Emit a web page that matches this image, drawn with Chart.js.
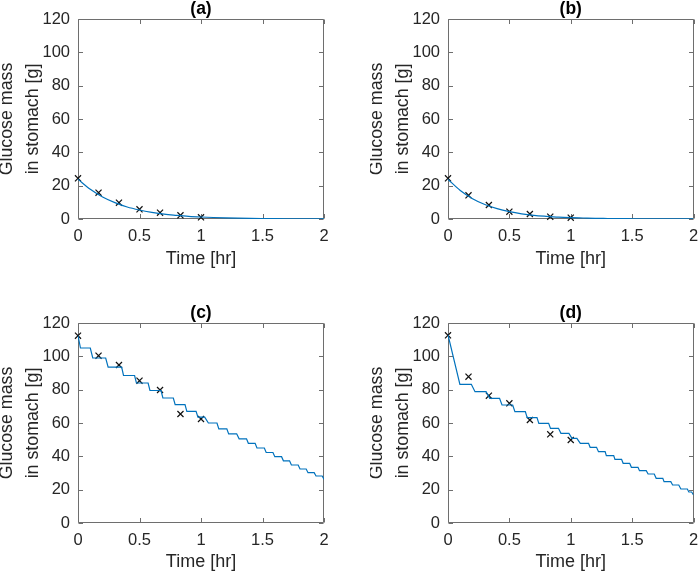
<!DOCTYPE html>
<html>
<head>
<meta charset="utf-8">
<script src="https://cdn.jsdelivr.net/npm/chart.js@4/dist/chart.umd.min.js"></script>
<style>
  html, body { margin: 0; padding: 0; background: #fff; }
  #wrap { position: relative; width: 699px; height: 573px; overflow: hidden; }
  canvas { position: absolute; }
</style>
</head>
<body>
<div id="wrap">
  <canvas id="chartA" width="350" height="270" style="left:0;top:0"></canvas>
  <canvas id="chartB" width="329" height="270" style="left:370px;top:0"></canvas>
  <canvas id="chartC" width="350" height="270" style="left:0;top:303px"></canvas>
  <canvas id="chartD" width="329" height="270" style="left:370px;top:303px"></canvas>
</div>
<script>
// measured samples (same sampling times in every panel)
const measTime = [0, 0.167, 0.333, 0.5, 0.667, 0.833, 1];
const measA = [24.4, 15.8, 9.8, 5.8, 3.8, 2.2, 1.0];
const measB = [24.4, 14.2, 8.4, 4.4, 3.0, 1.4, 0.8];
const measC = [112.4, 100.4, 94.8, 85.4, 79.8, 65.4, 62.4];
const measD = [112.6, 87.8, 76.4, 71.8, 61.8, 53.2, 49.8];

// model curves (a) and (b), read every 0.1 hr
const smoothTime = [0, 0.1, 0.2, 0.3, 0.4, 0.5, 0.6, 0.7, 0.8, 0.9, 1.0,
                    1.1, 1.2, 1.3, 1.4, 1.5, 1.6, 1.7, 1.8, 1.9, 2.0];
const modelA = [23.8, 17.8, 13.2, 9.8, 7.2, 5.4, 4.0, 2.9, 2.2, 1.6, 1.2,
                0.9, 0.66, 0.49, 0.36, 0.27, 0.2, 0.15, 0.11, 0.08, 0.06];
const modelB = [23.8, 17.1, 12.2, 8.7, 6.2, 4.4, 3.1, 2.2, 1.6, 1.1, 0.8,
                0.6, 0.4, 0.3, 0.2, 0.15, 0.1, 0.08, 0.05, 0.04, 0.03];

// model curve (c), staircase corners
const stepTimeC = [0, 0.02, 0.10, 0.12, 0.225, 0.245, 0.355, 0.37, 0.46, 0.475,
                   0.57, 0.585, 0.675, 0.69, 0.775, 0.79, 0.87, 0.885, 0.96, 0.975,
                   1.03, 1.06, 1.13, 1.145, 1.21, 1.225, 1.29, 1.31, 1.37, 1.385,
                   1.44, 1.455, 1.515, 1.53, 1.585, 1.6, 1.655, 1.67, 1.72, 1.735,
                   1.79, 1.805, 1.855, 1.87, 1.92, 1.935, 1.985, 2.0];
const modelC = [112.5, 105, 105, 99, 99, 93.5, 93.5, 88.5, 88.5, 84,
                84, 79.5, 79.5, 75, 75, 71, 71, 67, 67, 63.5,
                63.5, 60, 60, 56.5, 56.5, 53.5, 53.5, 50.5, 50.5, 47.8,
                47.8, 45, 45, 42.3, 42.3, 39.8, 39.8, 37.3, 37.3, 34.8,
                34.8, 32.4, 32.4, 30.2, 30.2, 28.2, 28.2, 26.2];

// model curve (d), staircase corners
const stepTimeD = [0, 0.097, 0.19, 0.22, 0.31, 0.34, 0.42, 0.44, 0.527, 0.545,
                   0.63, 0.645, 0.725, 0.74, 0.82, 0.835, 0.9, 0.92, 0.985, 1.01,
                   1.05, 1.078, 1.145, 1.158, 1.21, 1.226, 1.28, 1.29, 1.35, 1.36,
                   1.414, 1.427, 1.48, 1.494, 1.548, 1.56, 1.615, 1.63, 1.68, 1.696,
                   1.75, 1.76, 1.815, 1.83, 1.88, 1.897, 1.95, 1.962, 1.985, 2.0];
const modelD = [112.8, 83.2, 83.2, 78.8, 78.8, 74.8, 74.8, 70.8, 70.8, 66.8,
                66.8, 63.2, 63.2, 59.8, 59.8, 56.8, 56.8, 53.8, 53.8, 50.8,
                50.8, 47.8, 47.8, 45.4, 45.4, 42.8, 42.8, 40.4, 40.4, 38.2,
                38.2, 35.8, 35.8, 33.4, 33.4, 31.4, 31.4, 29.4, 29.4, 26.8,
                26.8, 24.8, 24.8, 22.8, 22.8, 20.4, 20.4, 18.6, 18.6, 16.8];

const xTicks = [0, 0.5, 1, 1.5, 2];
const xTickLabels = ['0', '0.5', '1', '1.5', '2'];
const yTicks = [0, 20, 40, 60, 80, 100, 120];
const panelTitles = ['(a)', '(b)', '(c)', '(d)'];

const FONT = '"Liberation Sans", Arial, Helvetica, sans-serif';
const TEXT = '#262626';

const toPoints = (xs, ys) => xs.map((x, i) => ({ x: x, y: ys[i] }));

// MATLAB style box with inward ticks + bold panel title
const boxPlugin = {
  id: 'matlabBox',
  beforeDatasetsDraw(chart, args, opts) {
    const { ctx, chartArea: a, scales: { x, y } } = chart;
    const L = Math.round(a.left) + 0.5, R = Math.round(a.right) - 0.5;
    const T = Math.round(a.top) + 0.5, B = Math.round(a.bottom) - 0.5;
    const len = 4.5;
    ctx.save();
    ctx.strokeStyle = '#6e6e6e';
    ctx.lineWidth = 1;
    ctx.beginPath();
    ctx.rect(L, T, R - L, B - T);
    x.ticks.forEach(t => {
      const px = Math.round(x.getPixelForValue(t.value)) + 0.5;
      ctx.moveTo(px, B); ctx.lineTo(px, B - len);
      ctx.moveTo(px, T); ctx.lineTo(px, T + len);
    });
    y.ticks.forEach(t => {
      const py = Math.round(y.getPixelForValue(t.value)) + 0.5;
      ctx.moveTo(L, py); ctx.lineTo(L + len, py);
      ctx.moveTo(R, py); ctx.lineTo(R - len, py);
    });
    ctx.stroke();
    ctx.fillStyle = '#000';
    ctx.font = 'bold 17.5px ' + FONT;
    ctx.textAlign = 'center';
    ctx.textBaseline = 'middle';
    ctx.fillText(opts.title, (a.left + a.right) / 2, a.top - 9.5);
    ctx.restore();
  }
};

function makePanel(id, title, lineX, lineY, smooth, meas, padTop, padRight) {
  const xAxisH = 270 - padTop - 200;
  new Chart(document.getElementById(id), {
    type: 'scatter',
    data: {
      datasets: [{
        data: toPoints(lineX, lineY),
        showLine: true,
        borderColor: '#0072BD',
        borderWidth: 1.2,
        pointRadius: 0,
        tension: smooth ? 0.4 : 0,
        cubicInterpolationMode: smooth ? 'monotone' : 'default'
      }, {
        data: toPoints(measTime, meas),
        showLine: false,
        pointStyle: 'crossRot',
        pointRadius: 4.3,
        borderColor: '#111',
        borderWidth: 1.2,
        clip: false
      }]
    },
    options: {
      responsive: false,
      animation: false,
      layout: { padding: { top: padTop, right: padRight, left: 0, bottom: 0 } },
      plugins: {
        legend: { display: false },
        tooltip: { enabled: false },
        matlabBox: { title: title }
      },
      scales: {
        x: {
          type: 'linear',
          min: 0, max: 2,
          afterBuildTicks: s => { s.ticks = xTicks.map(v => ({ value: v })); },
          grid: { display: false, drawTicks: false },
          border: { display: false },
          ticks: {
            color: TEXT, padding: 8, font: { family: FONT, size: 16.5 }, maxRotation: 0,
            callback: v => xTickLabels[xTicks.indexOf(v)]
          },
          title: {
            display: true, text: 'Time [hr]', color: TEXT, padding: 0,
            font: { family: FONT, size: 18 }
          },
          afterFit: s => { s.height = xAxisH; s.paddingLeft = 0; s.paddingRight = 0; }
        },
        y: {
          min: 0, max: 120,
          afterBuildTicks: s => { s.ticks = yTicks.map(v => ({ value: v })); },
          grid: { display: false, drawTicks: false },
          border: { display: false },
          ticks: { color: TEXT, padding: 8, font: { family: FONT, size: 16.5 } },
          title: {
            display: true, text: ['Glucose mass', 'in stomach [g]'], color: TEXT,
            padding: { top: -6, bottom: 0 },
            font: { family: FONT, size: 17.8, lineHeight: 1.46 }
          },
          afterFit: s => { s.width = 78; s.paddingTop = 0; s.paddingBottom = 0; }
        }
      }
    },
    plugins: [boxPlugin]
  });
}

makePanel('chartA', panelTitles[0], smoothTime, modelA, true, measA, 19, 26);
makePanel('chartB', panelTitles[1], smoothTime, modelB, true, measB, 19, 3);
makePanel('chartC', panelTitles[2], stepTimeC, modelC, false, measC, 20, 26);
makePanel('chartD', panelTitles[3], stepTimeD, modelD, false, measD, 20, 3);
</script>
</body>
</html>
